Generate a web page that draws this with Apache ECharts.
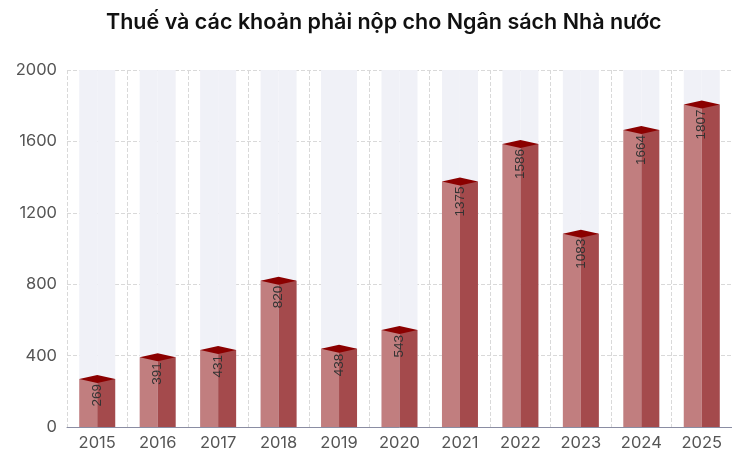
<!DOCTYPE html>
<html>
<head>
<meta charset="utf-8">
<script src="https://cdn.jsdelivr.net/npm/echarts@6/dist/echarts.min.js"></script>
<style>
  html, body { margin: 0; padding: 0; background: #fff; }
  #chart { width: 732px; height: 452px; }
</style>
</head>
<body>
<div id="chart"></div>
<script>
// Thuế và các khoản phải nộp cho Ngân sách Nhà nước, theo năm
const years = ['2015', '2016', '2017', '2018', '2019', '2020', '2021', '2022', '2023', '2024', '2025'];
const payments = [269, 391, 431, 820, 438, 543, 1375, 1586, 1083, 1664, 1807];
const yTicks = { min: 0, max: 2000, interval: 400 };

const FONT = 'Inter, "Noto Sans", sans-serif';
const chart = echarts.init(document.getElementById('chart'), null, { renderer: 'canvas' });

chart.setOption({
  animation: false,
  title: {
    text: 'Thuế và các khoản phải nộp cho Ngân sách Nhà nước',
    left: 101,
    top: 7,
    textStyle: { fontFamily: FONT, fontSize: 21.5, fontWeight: 600, color: '#111' }
  },
  grid: { left: 67, top: 70, width: 678, height: 358, containLabel: false },
  xAxis: {
    type: 'category',
    data: years,
    axisLine: { show: true, lineStyle: { color: '#8a8da3', width: 1 } },
    axisTick: { show: false },
    axisLabel: { fontFamily: FONT, fontSize: 16.5, color: '#555', margin: 8 },
    splitLine: { show: true, lineStyle: { type: 'dashed', color: '#d9d9d9' } }
  },
  yAxis: {
    type: 'value',
    min: yTicks.min,
    max: yTicks.max,
    interval: yTicks.interval,
    axisLine: { show: false },
    axisTick: { show: false },
    axisLabel: {
      fontFamily: FONT, fontSize: 16.5, color: '#555', margin: 10,
      formatter: (v) => String(v)
    },
    splitLine: { show: true, lineStyle: { type: 'dashed', color: '#d9d9d9' } }
  },
  series: [
    {
      // lit face of each column
      type: 'bar',
      data: payments,
      barWidth: 18,
      barGap: 0,
      itemStyle: { color: '#c17e7f' },
      showBackground: true,
      backgroundStyle: { color: '#f0f1f7' },
      z: 2
    },
    {
      // shaded face of each column; its left edge is the column's middle,
      // so the value is written down from there
      type: 'bar',
      data: payments,
      barWidth: 18,
      barGap: 0,
      itemStyle: { color: '#a44a4c' },
      showBackground: true,
      backgroundStyle: { color: '#f0f1f7' },
      z: 2,
      label: {
        show: true,
        position: [0, 5],
        rotate: 90,
        align: 'right',
        verticalAlign: 'middle',
        fontFamily: '"Liberation Sans", Arial, sans-serif',
        fontSize: 13.5,
        color: '#333'
      }
    },
    {
      // diamond cap on top of each column
      type: 'pictorialBar',
      data: payments,
      symbol: 'diamond',
      symbolSize: [36, 8],
      symbolPosition: 'end',
      symbolOffset: [0, '-50%'],
      itemStyle: { color: '#8b0000' },
      z: 3
    }
  ]
});
</script>
</body>
</html>
